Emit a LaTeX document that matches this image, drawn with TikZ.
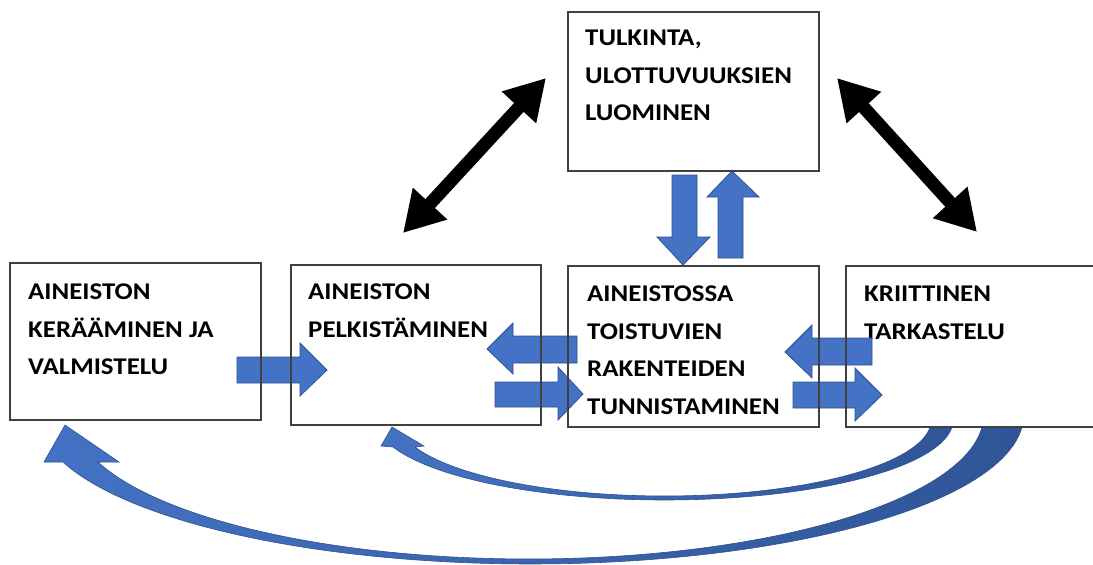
\documentclass[tikz,border=0pt]{standalone}
\usepackage{fontspec}
\setmainfont{Carlito}[FakeStretch=1.12]
\usetikzlibrary{arrows.meta}
\definecolor{boxline}{HTML}{404040}
\definecolor{blockblue}{HTML}{4472C4}
\definecolor{blockedge}{HTML}{2F528F}
\definecolor{curvedark}{HTML}{2F5597}

\begin{document}
\begin{tikzpicture}[x=1pt,y=-1pt,
  stage/.style={draw=boxline, fill=white, line width=1.1pt, outer sep=0pt, inner sep=0pt, anchor=north west},
  stagetext/.style={anchor=north west, inner sep=0pt, align=left, font=\fontsize{24}{37.5}\selectfont\bfseries},
  block/.style={fill=blockblue, draw=blockedge, line width=0.8pt, line join=miter},
  twoway/.style={line width=13pt, {Triangle[length=40pt,width=44pt]}-{Triangle[length=40pt,width=44pt]}},
  arcband/.style={left color=blockblue, right color=curvedark, draw=blockedge, line width=0.6pt}
]
\useasboundingbox (0,0) rectangle (1093,565);
\fill[white] (0,0) rectangle (1093,565);

% feedback arcs from the critical review back to earlier stages
\path[arcband] plot[domain=4.62:161.61, samples=90] ({530.7+492.9*cos(\x)},{415+149*sin(\x)})
  -- (44,462) -- (65,425) -- (119,462) -- (98,462)
  -- plot[domain=160.95:4.78, samples=90] ({528.3+455.3*cos(\x)},{415+144*sin(\x)}) -- cycle;
\path[arcband] plot[domain=5.02:160.28, samples=90] ({664.6+288.5*cos(\x)},{420+80*sin(\x)})
  -- (381,446) -- (392,427) -- (424,446) -- (415,447)
  -- plot[domain=159.19:5.28, samples=90] ({664.4+266.8*cos(\x)},{420+76*sin(\x)}) -- cycle;

% stages
\node[stage, minimum width=251pt, minimum height=159pt] (tulk) at (568,12) {};
\node[stage, minimum width=251pt, minimum height=157pt] (ker) at (10,263) {};
\node[stage, minimum width=250pt, minimum height=160pt] (pelk) at (291,265) {};
\node[stage, minimum width=251pt, minimum height=161pt] (toist) at (568,266) {};
\node[stage, minimum width=260pt, minimum height=161pt] (krit) at (846,266) {};

\node[stagetext] (tulkt) at ([shift={(17,18)}]tulk.north west) {TULKINTA,\\ULOTTUVUUKSIEN\\LUOMINEN};
\node[stagetext] (kert) at ([shift={(18,21)}]ker.north west) {AINEISTON\\KERÄÄMINEN JA\\VALMISTELU};
\node[stagetext] (pelkt) at ([shift={(17,19)}]pelk.north west) {AINEISTON\\PELKISTÄMINEN};
\node[stagetext] (toistt) at ([shift={(19,20)}]toist.north west) {AINEISTOSSA\\TOISTUVIEN\\RAKENTEIDEN\\TUNNISTAMINEN};
\node[stagetext] (kritt) at ([shift={(18,20)}]krit.north west) {KRIITTINEN\\TARKASTELU};

% block arrows between stages
\path[block] (237,357) -- (300,357) -- (300,343) -- (327,370) -- (300,396) -- (300,383) -- (237,383) -- cycle;
\path[block] (577,336) -- (513,336) -- (513,323) -- (487,349) -- (513,374) -- (513,363) -- (577,363) -- cycle;
\path[block] (495,382) -- (558,382) -- (558,367) -- (583,394) -- (558,420) -- (558,407) -- (495,407) -- cycle;
\path[block] (872,338) -- (812,338) -- (812,325) -- (785,352) -- (812,378) -- (812,365) -- (872,365) -- cycle;
\path[block] (793,382) -- (855,382) -- (855,368) -- (882,395) -- (855,421) -- (855,408) -- (793,408) -- cycle;
\path[block] (672,175) -- (697,175) -- (697,237) -- (710,237) -- (683,265) -- (657,237) -- (672,237) -- cycle;
\path[block] (718,258) -- (743,258) -- (743,197) -- (759,197) -- (732,171) -- (707,197) -- (718,197) -- cycle;

% stage outlines above the arrows
\foreach \s in {tulk,ker,pelk,toist,krit}
  \draw[boxline, line width=1.1pt] (\s.north west) rectangle (\s.south east);

% interpretation linked both ways with the neighbouring stages
\coordinate (la) at (403,233);
\coordinate (lb) at (546,78);
\coordinate (ra) at (837,78);
\coordinate (rb) at (977,232);
\draw[twoway] (la) -- (lb);
\draw[twoway] (ra) -- (rb);
\end{tikzpicture}
\end{document}
